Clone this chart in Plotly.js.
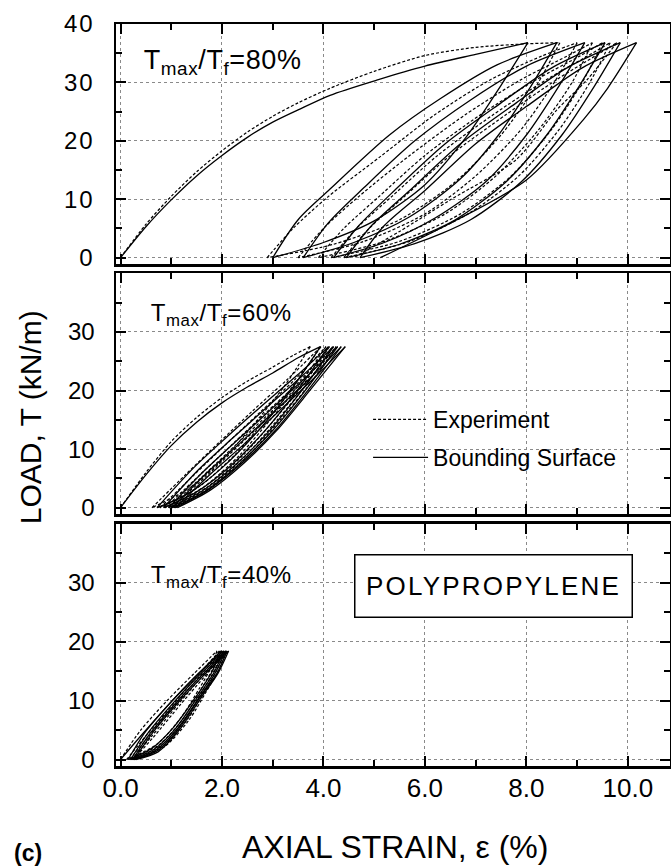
<!DOCTYPE html>
<html><head><meta charset="utf-8">
<script src="https://cdn.plot.ly/plotly-3.0.1.min.js"></script>
<style>
html,body{margin:0;padding:0;background:#fff}
#chart{width:671px;height:867px}
#chart .xtick text{letter-spacing:2px}
#chart .ytick text{letter-spacing:2px}
#chart .annotation[data-index="3"] text{letter-spacing:2.2px}
#chart .annotation[data-index="0"] text,#chart .annotation[data-index="1"] text,#chart .annotation[data-index="2"] text{letter-spacing:0.6px}
</style>
</head><body><div id="chart"></div>
<script>
// ---------- Tmax/Tf = 80% ----------
const strain80_bs = [0,0.5,1.0,1.5,2.0,2.5,3.0,3.5,4.13,5.05,6.0,7.0,8.03,
 7.5,6.8,6.0,5.0,4.0,3.0,
 3.5,4.1,5.3,6.3,7.42,8.6,
 8.1,7.45,6.7,5.7,4.6,3.6,
 4.1,4.8,5.8,6.9,8.0,9.15,
 8.65,8.0,7.2,6.2,5.2,4.2,
 4.7,5.4,6.4,7.5,8.5,9.55,
 9.05,8.4,7.6,6.6,5.5,4.45,
 4.95,5.7,6.7,7.8,8.8,9.85,
 9.35,8.7,7.9,6.9,5.8,4.72,
 5.2,6.0,7.0,8.1,9.1,10.17,
 9.6,9.12,8.0,6.5,5.12];
const load80_bs = [0,5.3,9.9,14,17.5,20.6,23.2,25.3,27.8,30.4,32.8,34.8,36.8,
 29.5,20.5,12.5,6.3,2.6,0,
 6.5,11.5,21,27.2,33,36.8,
 29.5,21,13.5,7,2.6,0,
 6,12,20,27,32.8,36.8,
 29.5,21,13,6.8,2.6,0,
 5.5,11.5,19.5,26.5,32.5,36.8,
 29.5,21,13,6.5,2.3,0,
 5.5,11.5,19.5,26.5,32.5,36.8,
 29.5,21,13,6.5,2.4,0,
 5.5,11.5,19.5,26.5,32.5,36.8,
 29,23.6,13.3,5.9,0];
const strain80_exp = [0,0.5,1.0,1.5,2.0,2.5,3.0,3.5,4.13,5.0,6.0,7.0,8.0,8.66,
 8.2,7.5,6.6,5.5,4.2,2.89,
 3.4,4.1,5.12,6.2,7.3,8.3,9.0,
 8.55,7.9,7.0,6.0,4.8,3.5,
 4.0,4.7,5.7,6.8,7.9,8.8,9.3,
 8.9,8.25,7.4,6.4,5.2,3.9,
 4.4,5.1,6.0,7.1,8.2,9.05,9.5,
 9.1,8.5,7.7,6.7,5.5,4.15,
 4.65,5.35,6.25,7.35,8.4,9.2,9.65,
 9.25,8.65,7.85,6.85,5.7,4.4,
 4.9,5.6,6.5,7.6,8.6,9.35,9.78,
 9.2,8.6,7.8,6.5,5.5,4.6];
const load80_exp = [0,5.7,10.5,14.7,18.3,21.5,24.2,26.5,29,31.9,34.6,36.0,36.6,36.8,
 29.5,21,13,6.5,2.3,0,
 5,10.5,17.3,24.5,30.5,34.5,36.8,
 30,22,14,7.5,2.8,0,
 5,10.5,17.5,24.5,30.5,34.5,36.8,
 30,22,14,7.5,2.8,0,
 5,10.5,17.5,24.5,30.5,34.5,36.8,
 30,22,14,7.5,2.8,0,
 5,10.5,17.5,24.5,30.5,34.5,36.8,
 30,22,14,7.5,2.8,0,
 5,10.5,17.5,24.5,30.5,34.5,36.8,
 30.5,25.3,16.8,9.9,4.5,0];

// ---------- Tmax/Tf = 60% ----------
const strain60_bs = [0,0.5,1.0,1.5,2.0,2.5,3.0,3.5,3.94,
 3.35,2.7,2.0,1.35,0.72,
 1.44,2.1,2.76,3.48,4.1,
 3.48,2.83,2.15,1.5,0.85,
 1.55,2.2,2.88,3.58,4.2,
 3.57,2.92,2.25,1.6,0.95,
 1.65,2.3,2.98,3.67,4.28,
 3.64,2.99,2.33,1.68,1.02,
 1.72,2.38,3.05,3.75,4.35,
 3.69,3.04,2.38,1.72,1.08,
 1.78,2.44,3.1,3.8,4.43,
 3.74,3.08,2.43,1.77,1.12];
const load60_bs = [0,5.6,10.6,14.6,17.9,20.6,23,25.6,27.5,
 20,13,6.8,2.5,0,
 6.8,12.1,17.2,22.6,27.5,
 20,13,7,2.7,0,
 6.6,11.8,17.1,22.5,27.5,
 20,13,7.2,2.8,0,
 6.3,11.5,16.9,22.4,27.5,
 20,13.1,7.4,2.9,0,
 6.1,11.2,16.6,22.2,27.5,
 20,13.1,7.5,3.0,0,
 5.8,10.9,16.3,22,27.5,
 20.1,13.2,7.6,3.0,0];
const strain60_exp = [0,0.5,1.0,1.5,2.0,2.5,3.0,3.4,3.74,
 3.25,2.7,2.1,1.4,0.62,
 1.3,1.95,2.6,3.3,3.95,
 3.42,2.85,2.25,1.55,0.78,
 1.45,2.1,2.75,3.45,4.05,
 3.52,2.95,2.35,1.65,0.88,
 1.55,2.2,2.85,3.55,4.12,
 3.6,3.03,2.42,1.72,0.95,
 1.62,2.27,2.92,3.62,4.18,
 3.66,3.09,2.48,1.78,1.0,
 1.68,2.33,2.98,3.68,4.25,
 3.72,3.15,2.53,1.83,1.05];
const load60_exp = [0,6.0,11.3,15.4,18.8,21.6,24,26,27.5,
 21,15,9,3.6,0,
 5.8,11.2,16.5,22,27.5,
 21,15,9,3.6,0,
 5.6,11,16.3,22,27.5,
 21,15,9,3.6,0,
 5.5,10.8,16.1,21.8,27.5,
 21,15,9,3.6,0,
 5.4,10.7,16,21.7,27.5,
 21,15,9,3.6,0,
 5.3,10.6,15.9,21.6,27.5,
 21,15,9,3.6,0];

// ---------- Tmax/Tf = 40% ----------
const strain40_bs = [0,0.45,0.98,1.5,1.98,
 1.8,1.5,1.05,0.6,0.15,
 0.5,1.0,1.5,2.03,
 1.84,1.53,1.08,0.64,0.2,
 0.55,1.04,1.54,2.07,
 1.87,1.56,1.1,0.68,0.24,
 0.59,1.08,1.58,2.1,
 1.9,1.57,1.12,0.71,0.27,
 0.62,1.11,1.61,2.13,
 1.92,1.59,1.14,0.74,0.3];
const load40_bs = [0,4.5,9.6,14.2,18.4,
 14.8,10.8,5.5,1.8,0,
 4.8,9.8,14.3,18.4,
 14.7,10.7,5.2,1.6,0,
 4.6,9.6,14.2,18.4,
 14.7,10.6,5.0,1.5,0,
 4.5,9.5,14.1,18.4,
 14.6,10.6,4.9,1.4,0,
 4.4,9.4,14.0,18.4,
 14.6,10.5,4.8,1.3,0];
const strain40_exp = [0,0.39,0.92,1.44,1.9,
 1.78,1.55,1.2,0.72,0.12,
 0.5,1.08,1.52,1.95,
 1.82,1.58,1.24,0.76,0.18,
 0.55,1.12,1.56,2.0,
 1.86,1.62,1.28,0.8,0.22,
 0.6,1.16,1.6,2.04,
 1.9,1.66,1.32,0.84,0.25,
 0.64,1.2,1.64,2.08,
 1.93,1.69,1.35,0.87,0.28];
const load40_exp = [0,4.9,10,14.5,18.4,
 15.5,12,7.2,2.6,0,
 4,9.8,14.2,18.4,
 15.4,11.8,7.0,2.5,0,
 3.9,9.7,14.1,18.4,
 15.3,11.7,6.9,2.4,0,
 3.8,9.6,14.0,18.4,
 15.2,11.6,6.8,2.3,0,
 3.7,9.5,13.9,18.4,
 15.1,11.5,6.7,2.2,0];

const xTickVals = [0,2,4,6,8,10];
const xTickText = ['0.0','2.0','4.0','6.0','8.0','10.0'];
const panelLabels = ['T<sub>max</sub>/T<sub>f</sub>=80%','T<sub>max</sub>/T<sub>f</sub>=60%','T<sub>max</sub>/T<sub>f</sub>=40%'];
const seriesNames = ['Experiment','Bounding Surface'];

// split a loading path into monotonic branches (loading / unloading)
function branches(xs, ys){
  const out=[]; let cur={x:[xs[0]],y:[ys[0]]}; let dir=0;
  for(let i=1;i<xs.length;i++){
    const d=Math.sign(ys[i]-ys[i-1]);
    if(dir!==0 && d!==0 && d!==dir){ out.push(cur); cur={x:[xs[i-1]],y:[ys[i-1]]}; }
    if(d!==0) dir=d;
    cur.x.push(xs[i]); cur.y.push(ys[i]);
  }
  out.push(cur); return out;
}

const panels = [
  {xa:'x', ya:'y', exp:[strain80_exp,load80_exp], bs:[strain80_bs,load80_bs]},
  {xa:'x2', ya:'y2', exp:[strain60_exp,load60_exp], bs:[strain60_bs,load60_bs]},
  {xa:'x3', ya:'y3', exp:[strain40_exp,load40_exp], bs:[strain40_bs,load40_bs]}
];
const traces=[];
panels.forEach((p,pi)=>{
  branches(p.exp[0],p.exp[1]).forEach((b,bi)=>{
    const leg = (pi===1 && bi===0);
    traces.push({x:b.x,y:b.y,xaxis:p.xa,yaxis:p.ya,mode:'lines',
      line:{color:'#000',width:1.2,dash:'3px,2px',shape:'spline',smoothing:0.8},
      showlegend:leg,name:seriesNames[0],legendgroup:leg?'g1':undefined,hoverinfo:'skip'});
  });
});
panels.forEach((p,pi)=>{
  branches(p.bs[0],p.bs[1]).forEach((b,bi)=>{
    const leg = (pi===1 && bi===0);
    traces.push({x:b.x,y:b.y,xaxis:p.xa,yaxis:p.ya,mode:'lines',
      line:{color:'#000',width:1.3,shape:'spline',smoothing:0.8},
      showlegend:leg,name:seriesNames[1],legendgroup:leg?'g2':undefined,hoverinfo:'skip'});
  });
});

const FONT = 'Liberation Sans, Arial, Helvetica, sans-serif';
function xAxis(anchor, labels){
  return {anchor:anchor, domain:[0,1], range:[-0.089,10.83], tickmode:'array', tickvals:xTickVals, ticktext:xTickText,
    showticklabels:labels, tickfont:{family:FONT,size:26,color:'#000'}, ticklabelstandoff:-3,
    ticks:'inside', ticklen:10, tickwidth:2, tickcolor:'#000',
    showline:true, linecolor:'#000', linewidth:2.5, mirror:'ticks',
    showgrid:true, gridcolor:'#8a8a8a', griddash:'dot', gridwidth:1, zeroline:false,
    minor:{ticks:'inside', tickmode:'linear', tick0:0, dtick:1, ticklen:6, tickwidth:2, tickcolor:'#000', showgrid:false},
    fixedrange:true};
}
function yAxis(anchor, domain, vals){
  return {anchor:anchor, domain:domain, range:[-1.1,40], tickmode:'array', tickvals:vals,
    tickfont:{family:FONT,size:24,color:'#000'}, ticklabelstandoff:14,
    ticks:'inside', ticklen:10, tickwidth:2, tickcolor:'#000',
    showline:true, linecolor:'#000', linewidth:2.5, mirror:'ticks',
    showgrid:true, gridcolor:'#8a8a8a', griddash:'dot', gridwidth:1, zeroline:false,
    minor:{ticks:'inside', tickmode:'linear', tick0:0, dtick:5, ticklen:6, tickwidth:2, tickcolor:'#000', showgrid:false},
    fixedrange:true};
}

const layout = {
  width:671, height:867, paper_bgcolor:'#fff', plot_bgcolor:'#fff',
  margin:{l:116, r:1, t:24, b:101, pad:0},
  font:{family:FONT, color:'#000'},
  xaxis: xAxis('y', false),
  xaxis2: xAxis('y2', false),
  xaxis3: xAxis('y3', true),
  yaxis: yAxis('x', [0.6764,1], [0,10,20,30,40]),
  yaxis2: yAxis('x2', [0.3394,0.6639], [0,10,20,30]),
  yaxis3: yAxis('x3', [0,0.3268], [0,10,20,30]),
  showlegend:true,
  legend:{x:0.455, y:0.496, xanchor:'left', yanchor:'top', bgcolor:'rgba(0,0,0,0)',
    font:{family:FONT,size:23,color:'#000'}, traceorder:'grouped', tracegroupgap:5, itemwidth:55},
  annotations:[
    {xref:'paper',yref:'paper',x:0.0523,y:0.9488,xanchor:'left',yanchor:'middle',showarrow:false,text:panelLabels[0],font:{size:27,family:FONT}},
    {xref:'paper',yref:'paper',x:0.0644,y:0.609,xanchor:'left',yanchor:'middle',showarrow:false,text:panelLabels[1],font:{size:24,family:FONT}},
    {xref:'paper',yref:'paper',x:0.0644,y:0.2558,xanchor:'left',yanchor:'middle',showarrow:false,text:panelLabels[2],font:{size:24,family:FONT}},
    {xref:'paper',yref:'paper',x:0.6814,y:0.2423,xanchor:'center',yanchor:'middle',showarrow:false,text:'POLYPROPYLENE',
      font:{size:26,family:FONT}, width:276, height:61, borderpad:0, bordercolor:'#000', borderwidth:1.5, bgcolor:'#fff'},
    {xref:'paper',yref:'paper',x:-0.1552,y:0.470,xanchor:'center',yanchor:'middle',showarrow:false,textangle:-90,
      text:'LOAD, T (kN/m)',font:{size:30,family:FONT}},
    {xref:'paper',yref:'paper',x:0.5045,y:-0.109,xanchor:'center',yanchor:'middle',showarrow:false,
      text:'AXIAL STRAIN, ε (%)',font:{size:32,family:FONT}},
    {xref:'paper',yref:'paper',x:-0.158,y:-0.117,xanchor:'center',yanchor:'middle',showarrow:false,
      text:'<b>(c)</b>',font:{size:23,family:FONT}}
  ]
};
Plotly.newPlot('chart', traces, layout, {staticPlot:true, displayModeBar:false});
</script></body></html>
